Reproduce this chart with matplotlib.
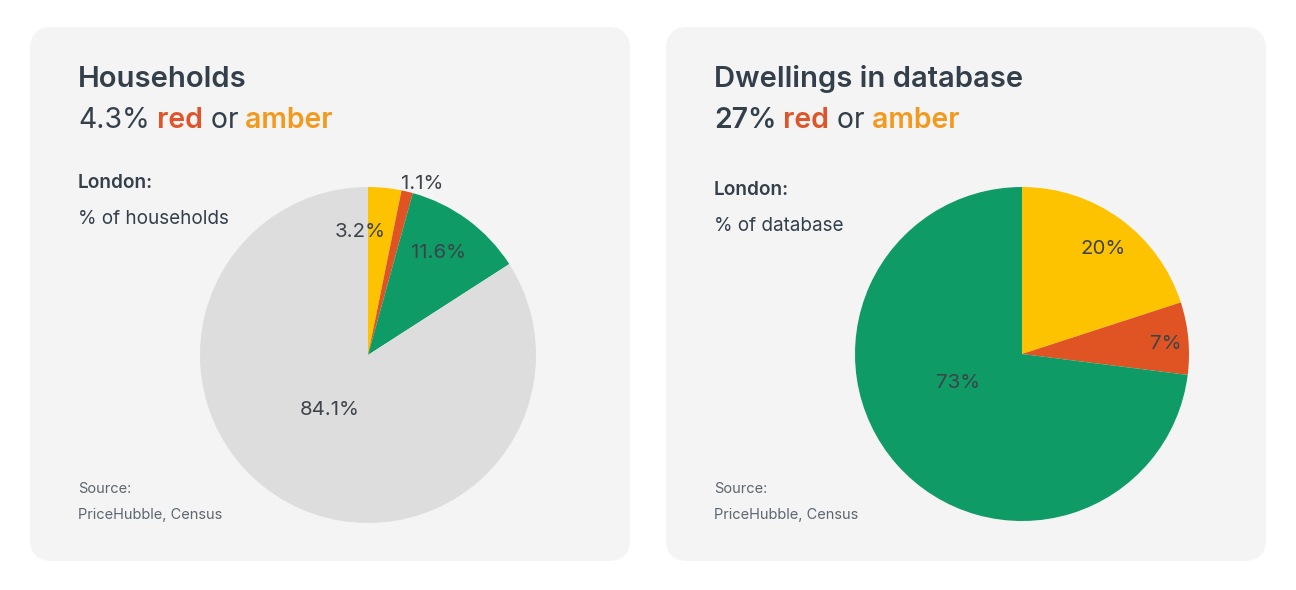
import matplotlib
matplotlib.use("Agg")
import matplotlib.pyplot as plt
from matplotlib.patches import FancyBboxPatch

# --- Data ---
HH_LABELS = ["Amber", "Red", "Green", "Other"]
HH_VALUES = [3.2, 1.1, 11.6, 84.1]
DB_LABELS = ["Amber", "Red", "Green"]
DB_VALUES = [20, 7, 73]

HH_TITLE = "Households"
HH_SHARE = "4.3%"
DB_TITLE = "Dwellings in database"
DB_SHARE = "27%"

# --- Style ---
W, H = 1296, 590
FONT = "Inter"
DARK = "#333f4a"
SOFT = "#5c6670"
RED_TXT = "#e0542a"
AMBER_TXT = "#f39a1e"
PANEL = "#f4f4f4"
SLICE_COLORS = {"Amber": "#fdc300", "Red": "#e05424",
                "Green": "#0f9b66", "Other": "#dddddd"}

plt.rcParams["font.family"] = [FONT, "DejaVu Sans"]

fig = plt.figure(figsize=(W / 100, H / 100), dpi=100)
bg = fig.add_axes([0, 0, 1, 1])
bg.set_xlim(0, W)
bg.set_ylim(H, 0)
bg.axis("off")


def headline(x, y, share, share_bold):
    t = bg.text(x, y, share, fontsize=20.4, color=DARK, va="baseline",
                fontweight="semibold" if share_bold else "normal")
    pieces = [(" red", RED_TXT, "semibold"), (" or", DARK, "normal"),
              (" amber", AMBER_TXT, "semibold")]
    prev = t
    for s, c, w in pieces:
        prev = bg.annotate(s, xy=(1, 0), xycoords=prev, va="bottom",
                           ha="left", fontsize=20.4, color=c, fontweight=w)


def panel(x0, title, share, share_bold, sub, ly, values, labels, center, r,
          label_xy):
    bg.add_patch(FancyBboxPatch((x0, 27), 600, 534,
                                boxstyle="round,pad=0,rounding_size=22",
                                fc=PANEL, ec="none"))
    tx = x0 + 48
    bg.text(tx, 87, title, fontsize=21, fontweight="semibold",
            color=DARK, va="baseline")
    headline(tx, 128, share, share_bold)
    bg.text(tx, ly, "London:", fontsize=13.7, fontweight="semibold",
            color=DARK, va="baseline")
    bg.text(tx, ly + 36, sub, fontsize=13.6, color=DARK, va="baseline")
    bg.text(tx, 493, "Source:", fontsize=10.5, color=SOFT, va="baseline")
    bg.text(tx, 519, "PriceHubble, Census", fontsize=10.5, color=SOFT,
            va="baseline")

    cx, cy = center
    ax = fig.add_axes([(cx - r) / W, 1 - (cy + r) / H, 2 * r / W, 2 * r / H])
    ax.pie(values, colors=[SLICE_COLORS[l] for l in labels], startangle=90,
           counterclock=False, radius=1,
           wedgeprops=dict(linewidth=0))
    ax.set_xlim(-1, 1)
    ax.set_ylim(-1, 1)
    ax.set_aspect("equal")
    ax.axis("off")
    for v, (lx, ly2) in zip(values, label_xy):
        ax.text(lx, ly2, f"{v:g}%", ha="center", va="center",
                fontsize=14.7, color="#3c434a")


panel(30, HH_TITLE, HH_SHARE, False, "% of households", 188,
      HH_VALUES, HH_LABELS, (368, 355), 168,
      [(-0.048, 0.73), (0.32, 1.02), (0.42, 0.61), (-0.226, -0.327)])
panel(666, DB_TITLE, DB_SHARE, True, "% of database", 195,
      DB_VALUES, DB_LABELS, (1022, 354), 167,
      [(0.485, 0.629), (0.862, 0.06), (-0.383, -0.174)])

fig.savefig("out.png", dpi=100, facecolor="white")
